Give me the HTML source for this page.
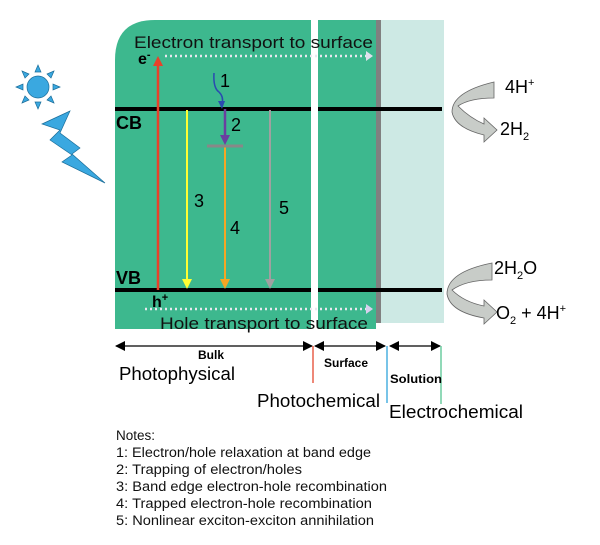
<!DOCTYPE html>
<html><head><style>
body{margin:0;background:#fff;}
svg text{font-family:"Liberation Sans",sans-serif;}
</style></head><body>
<svg width="600" height="540" viewBox="0 0 600 540" xmlns="http://www.w3.org/2000/svg">
<defs>
<marker id="ab" markerWidth="10" markerHeight="10" refX="9" refY="5" orient="auto-start-reverse" markerUnits="userSpaceOnUse"><path d="M0,0 L10,5 L0,10 z" fill="#000"/></marker>
</defs>
<path d="M155,20 L311,20 L311,329 L115,329 L115,60 Q115,20 155,20 z" fill="#3db88e"/>
<rect x="318" y="20" width="58" height="309" fill="#3db88e"/>
<rect x="381" y="20" width="63" height="303" fill="#cde9e4"/>
<rect x="376" y="20" width="5" height="303" fill="#808080"/>
<rect x="115" y="107" width="196" height="4" fill="#000"/>
<rect x="318" y="107" width="124" height="4" fill="#000"/>
<rect x="115" y="288" width="196" height="4" fill="#000"/>
<rect x="318" y="288" width="124" height="4" fill="#000"/>
<text x="134" y="48" font-size="17" fill="#111" textLength="239" lengthAdjust="spacingAndGlyphs">Electron transport to surface</text>
<line x1="165" y1="56" x2="366" y2="56" stroke="#e8e8f0" stroke-width="2.5" stroke-dasharray="2,3"/>
<path d="M366,51 L373,56 L366,61 z" fill="#e0e0ee"/>
<text x="138" y="64" font-size="16" font-weight="bold">e<tspan font-size="11" dy="-6">-</tspan></text>
<line x1="158" y1="290" x2="158" y2="64" stroke="#e8412a" stroke-width="2.5"/>
<path d="M153,66 L158,56 L163,66 z" fill="#e8412a"/>
<line x1="187" y1="110" x2="187" y2="280" stroke="#ffff33" stroke-width="2"/>
<path d="M182,279 L187,289 L192,279 z" fill="#ffff33"/>
<line x1="225" y1="146" x2="225" y2="280" stroke="#f5a623" stroke-width="2"/>
<path d="M220,279 L225,289 L230,279 z" fill="#f5a623"/>
<line x1="270" y1="110" x2="270" y2="280" stroke="#a0a0a0" stroke-width="2"/>
<path d="M265,279 L270,289 L275,279 z" fill="#a0a0a0"/>
<line x1="207" y1="146" x2="243" y2="146" stroke="#888" stroke-width="3"/>
<line x1="225" y1="109" x2="225" y2="137" stroke="#6a3ea0" stroke-width="2.5"/>
<path d="M220,135 L225,145 L230,135 z" fill="#6a3ea0"/>
<path d="M214,73 Q213,88 219,92 Q224,97 222,104" fill="none" stroke="#2a4ab0" stroke-width="1.5"/>
<path d="M218,101 L222,109 L225,101 z" fill="#2a4ab0"/>
<text x="220" y="87" font-size="18">1</text>
<text x="231" y="131" font-size="18">2</text>
<text x="194" y="207" font-size="18">3</text>
<text x="230" y="234" font-size="18">4</text>
<text x="279" y="214" font-size="18">5</text>
<text x="116" y="129" font-size="18" font-weight="bold">CB</text>
<text x="116" y="284" font-size="18" font-weight="bold">VB</text>
<text x="152" y="307" font-size="16" font-weight="bold">h<tspan font-size="11" dy="-6">+</tspan></text>
<line x1="145" y1="309" x2="366" y2="309" stroke="#e8e8f0" stroke-width="2.5" stroke-dasharray="2,3"/>
<path d="M366,304 L373,309 L366,314 z" fill="#d8d0ee"/>
<text x="160" y="329" font-size="17" fill="#111" textLength="208" lengthAdjust="spacingAndGlyphs">Hole transport to surface</text>
<g fill="#3aa8e0" stroke="#1b6e9a" stroke-width="0.7">
<circle cx="38" cy="87" r="11"/>
<path d="M38,65 l3,7 h-6z M38,109 l3,-7 h-6z M16,87 l7,3 v-6z M60,87 l-7,3 v-6z"/>
<path d="M22,71 l7,3 -4,4z M54,71 l-7,3 4,4z M22,103 l7,-3 -4,-4z M54,103 l-7,-3 4,-4z"/>
</g>
<path d="M42,124 L70,111 L60,133 L80,148 L72,154 L105,183 L62,162 L72,155 L50,140 L60,130 z" fill="#3aa8e0" stroke="#1b6e9a" stroke-width="0.7"/>
<g fill="#c8ccc8" stroke="#666" stroke-width="0.8">
<path d="M494,82 L494,98 Q470,98 458,106 Q470,118 484,124 L484,118 L497,130 L484,142 L484,135 Q455,128 452,112 Q452,92 494,82 z"/>
<path d="M492,263 L492,280 Q466,280 452,290 Q464,302 484,306 L484,300 L497,312 L484,324 L484,318 Q450,312 447,294 Q447,272 492,263 z"/>
</g>
<text x="505" y="93" font-size="18">4H<tspan font-size="11" dy="-7">+</tspan></text>
<text x="500" y="135" font-size="18">2H<tspan font-size="11" dy="5">2</tspan></text>
<text x="494" y="274" font-size="18">2H<tspan font-size="11" dy="5">2</tspan><tspan dy="-5">O</tspan></text>
<text x="496" y="319" font-size="18">O<tspan font-size="11" dy="5">2</tspan><tspan dy="-5"> + 4H</tspan><tspan font-size="11" dy="-7">+</tspan></text>
<g stroke="#000" stroke-width="1.3">
<line x1="116" y1="346" x2="312" y2="346" marker-start="url(#ab)" marker-end="url(#ab)"/>
<line x1="315" y1="346" x2="385" y2="346" marker-start="url(#ab)" marker-end="url(#ab)"/>
<line x1="390" y1="346" x2="440" y2="346" marker-start="url(#ab)" marker-end="url(#ab)"/>
</g>
<line x1="313" y1="346" x2="313" y2="383" stroke="#e8604a" stroke-width="1.5"/>
<line x1="387" y1="346" x2="387" y2="403" stroke="#4ab0e0" stroke-width="1.5"/>
<line x1="441" y1="346" x2="441" y2="404" stroke="#6ccca0" stroke-width="1.5"/>
<text x="198" y="359" font-size="12" font-weight="bold">Bulk</text>
<text x="324" y="367" font-size="12" font-weight="bold">Surface</text>
<text x="390" y="383" font-size="12" font-weight="bold" textLength="52" lengthAdjust="spacingAndGlyphs">Solution</text>
<text x="119" y="380" font-size="18" textLength="116" lengthAdjust="spacingAndGlyphs">Photophysical</text>
<text x="257" y="407" font-size="18" textLength="123" lengthAdjust="spacingAndGlyphs">Photochemical</text>
<text x="389" y="418" font-size="18" textLength="134" lengthAdjust="spacingAndGlyphs">Electrochemical</text>
<g font-size="13.5" fill="#111">
<text x="116" y="440">Notes:</text>
<text x="116" y="457" textLength="255" lengthAdjust="spacingAndGlyphs">1: Electron/hole relaxation at band edge</text>
<text x="116" y="474" textLength="186" lengthAdjust="spacingAndGlyphs">2: Trapping of electron/holes</text>
<text x="116" y="491" textLength="271" lengthAdjust="spacingAndGlyphs">3: Band edge electron-hole recombination</text>
<text x="116" y="508" textLength="256" lengthAdjust="spacingAndGlyphs">4: Trapped electron-hole recombination</text>
<text x="116" y="525" textLength="258" lengthAdjust="spacingAndGlyphs">5: Nonlinear exciton-exciton annihilation</text>
</g>
</svg>
</body></html>
